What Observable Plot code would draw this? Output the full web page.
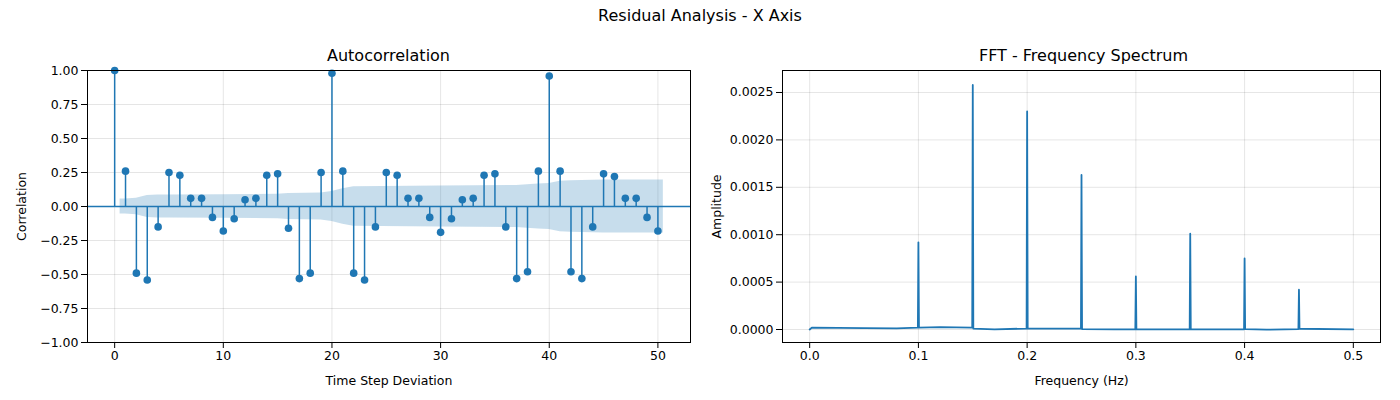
<!DOCTYPE html>
<html><head><meta charset="utf-8">
<script src="https://cdn.jsdelivr.net/npm/d3@7"></script>
<script src="https://cdn.jsdelivr.net/npm/@observablehq/plot@0.6"></script>
<style>
body{margin:0;background:#fff;font-family:"DejaVu Sans",sans-serif;}
#wrap{position:relative;width:1400px;height:400px;}
.t{position:absolute;text-align:center;color:#000;}
#p1,#p2{position:absolute;top:0;}
</style></head><body>
<div id="wrap">
<div class="t" style="left:0;width:1400px;top:6px;font-size:16px">Residual Analysis - X Axis</div>
<div class="t" style="left:87px;width:603px;top:46px;font-size:16px">Autocorrelation</div>
<div class="t" style="left:782px;width:603px;top:46px;font-size:16px">FFT - Frequency Spectrum</div>
<div id="p1" style="left:0"></div>
<div id="p2" style="left:695px"></div>
</div>
<script>
const lags = d3.range(0, 51);
const acfValues = [1,0.26,-0.49,-0.54,-0.15,0.25,0.23,0.06,0.06,-0.08,-0.18,-0.09,0.05,0.06,0.23,0.24,-0.16,-0.53,-0.49,0.25,0.98,0.26,-0.49,-0.54,-0.15,0.25,0.23,0.06,0.06,-0.08,-0.19,-0.09,0.05,0.06,0.23,0.24,-0.15,-0.53,-0.48,0.26,0.96,0.26,-0.48,-0.53,-0.15,0.24,0.22,0.06,0.06,-0.08,-0.18];
const bandLags = [0.5,1,2,3,4,5,10,15,16,19,20,21,22,30,37,38,39,40,41,42,45,50,50.5];
const bandHalf = [0.055,0.055,0.06,0.08,0.085,0.085,0.087,0.09,0.095,0.1,0.11,0.13,0.145,0.15,0.155,0.16,0.165,0.17,0.185,0.19,0.195,0.195,0.195];
const freqs = [0,0.002,0.05,0.08,0.0995,0.1,0.1005,0.12,0.1495,0.15,0.1505,0.17,0.1995,0.2,0.2005,0.2495,0.25,0.2505,0.28,0.2995,0.3,0.3005,0.3495,0.35,0.3505,0.3995,0.4,0.4005,0.42,0.4495,0.45,0.4505,0.5];
const amps = [0,0.00002,0.000015,0.000012,0.00002,0.00092,0.00002,0.000025,0.00002,0.00258,0.00001,0.000002,0.00001,0.0023,0.00001,0.00001,0.00163,0.000005,0.000001,0.000002,0.00056,0.000001,0.000002,0.00101,0.000002,0.000003,0.00075,0.000005,-0.000002,0.000005,0.00042,0.000008,0.000002];

const C = "#1f77b4";
const acf = lags.map((l,i)=>({lag:l, v:acfValues[i]}));
const band = bandLags.map((l,i)=>({lag:l, h:bandHalf[i]}));
const fft = freqs.map((f,i)=>({f, a:amps[i]}));
const common = {width:695, height:400, marginTop:70, marginBottom:58, style:{fontFamily:"DejaVu Sans", fontSize:"12.5px", color:"#000", background:"transparent"}};

document.getElementById("p1").append(Plot.plot({...common, marginLeft:87, marginRight:5,
  x:{domain:[-2.5,53], ticks:[0,10,20,30,40,50], label:"Time Step Deviation", labelAnchor:"center", labelArrow:"none", labelOffset:42, grid:true},
  y:{domain:[-1,1], ticks:d3.range(-1,1.01,0.25), tickFormat:d3.format(".2f"), label:"Correlation", labelAnchor:"center", labelArrow:"none", labelOffset:70, grid:true},
  marks:[
    Plot.areaY(band,{x:"lag", y1:d=>-d.h, y2:"h", fill:C, fillOpacity:0.25}),
    Plot.ruleY([0],{stroke:C, strokeWidth:1.5}),
    Plot.ruleX(acf,{x:"lag", y1:0, y2:"v", stroke:C, strokeWidth:1.5}),
    Plot.dot(acf,{x:"lag", y:"v", r:3.8, fill:C}),
    Plot.frame({stroke:"#000"})
  ]}));

document.getElementById("p2").append(Plot.plot({...common, marginLeft:87, marginRight:10,
  x:{domain:[-0.025,0.525], ticks:d3.range(0,0.51,0.1), tickFormat:d3.format(".1f"), label:"Frequency (Hz)", labelAnchor:"center", labelArrow:"none", labelOffset:42, grid:true},
  y:{domain:[-0.000137,0.002732], ticks:d3.range(0,0.00251,0.0005), tickFormat:d3.format(".4f"), label:"Amplitude", labelAnchor:"center", labelArrow:"none", labelOffset:70, grid:true},
  marks:[
    Plot.line(fft,{x:"f", y:"a", stroke:C, strokeWidth:1.8}),
    Plot.frame({stroke:"#000"})
  ]}));
</script></body></html>
